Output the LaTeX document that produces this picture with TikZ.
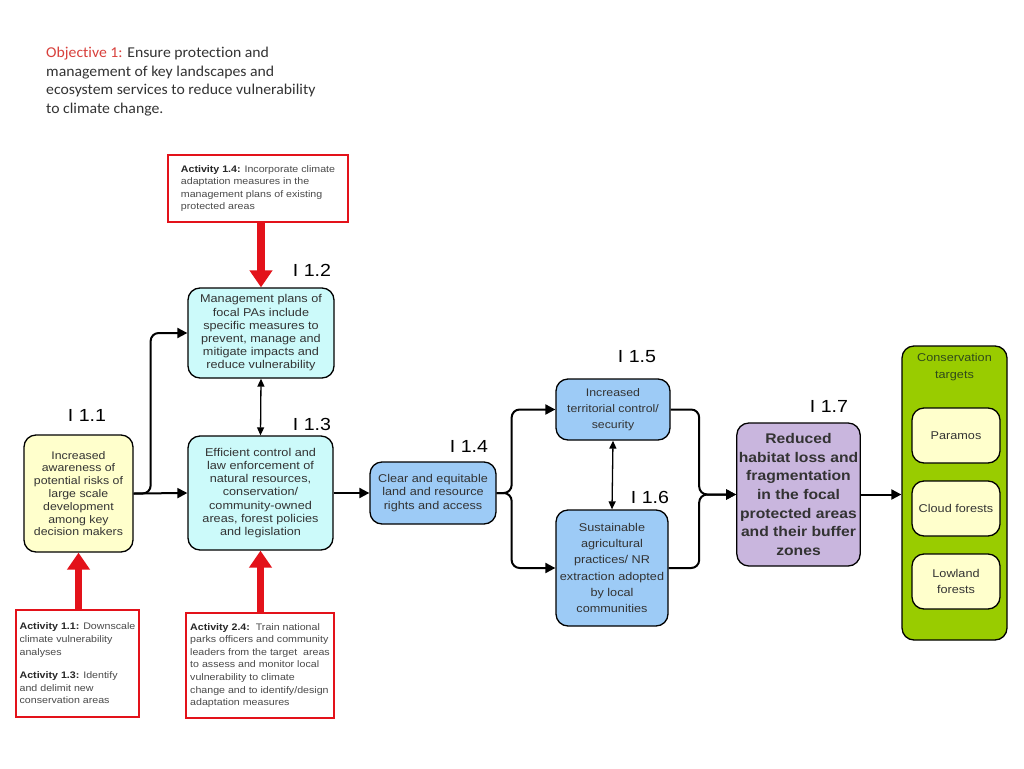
\documentclass[tikz,border=0pt]{standalone}
\usepackage{fontspec}
\setmainfont{Liberation Sans}[FakeStretch=1.12]
\newfontfamily\calib{Carlito}[FakeStretch=1.05,Ligatures=NoCommon]
\usetikzlibrary{arrows.meta}
\definecolor{txt}{HTML}{333333}
\definecolor{acttxt}{HTML}{4A4A4A}
\definecolor{arrred}{HTML}{E3121A}
\definecolor{objred}{HTML}{D8403C}
\definecolor{cyanf}{HTML}{CCFAFA}
\definecolor{yelf}{HTML}{FFFFCC}
\definecolor{bluef}{HTML}{9DCBF6}
\definecolor{purf}{HTML}{C9B6DE}
\definecolor{greenf}{HTML}{99CC00}
\definecolor{greentxt}{HTML}{2F4A1A}
\tikzset{
  ind/.style={draw=black, line width=1.3pt, rounded corners=12pt, align=center, text=txt, inner sep=2pt,
    font=\fontsize{11.3}{13.2}\selectfont},
  actbox/.style={draw=arrred, line width=2.2pt, fill=white, align=left, text=acttxt, inner sep=4pt,
    font=\fontsize{9.5}{12.6}\selectfont},
  lab/.style={font=\fontsize{17.5}{20}\selectfont, text=black, inner sep=0pt},
  conn/.style={line width=2pt, draw=black, -{Triangle[length=10pt,width=10pt]}},
  dbl/.style={line width=1.3pt, draw=black, {Triangle[length=8pt,width=7pt]}-{Triangle[length=8pt,width=7pt]}},
  redarr/.style={line width=7.5pt, draw=arrred, -{Triangle[length=17pt,width=22pt]}},
}
\begin{document}
\begin{tikzpicture}[x=1pt,y=-1pt]
\useasboundingbox[fill=white] (0,0) rectangle (1024,768);

% objective
\node[anchor=north west, align=left, inner sep=0pt, text=black!80, font=\calib\fontsize{15}{18.5}\selectfont] (obj) at (46,47)
  {{\color{objred}Objective 1:} Ensure protection and\\management of key landscapes and\\ecosystem services to reduce vulnerability\\to climate change.};

% activity boxes
\node[actbox, minimum width=180pt, minimum height=67pt] (act14) at (258,188.5)
  {\textbf{\color{black!85}Activity 1.4:} Incorporate climate\\adaptation measures in the\\management plans of existing\\protected areas\hspace*{10pt}};
\node[actbox, minimum width=123pt, minimum height=107pt] (act11) at (77.5,663.5)
  {\textbf{\color{black!85}Activity 1.1:} Downscale\\climate vulnerability\\analyses\\[11pt]\textbf{\color{black!85}Activity 1.3:} Identify\\and delimit new\\conservation areas};
\node[actbox, minimum width=148pt, minimum height=105pt] (act24) at (260,665.5)
  {\textbf{\color{black!85}Activity 2.4:}\ \ Train national\\parks officers and community\\leaders from the target\ \ areas\\to assess and monitor local\\vulnerability to climate\\change and to identify/design\\adaptation measures};

% indicator boxes
\node[ind, fill=cyanf, minimum width=146pt, minimum height=90pt] (mp) at (261,333)
  {Management plans of\\focal PAs include\\specific measures to\\prevent, manage and\\mitigate impacts and\\reduce vulnerability};
\node[ind, fill=cyanf, minimum width=145pt, minimum height=114pt] (ef) at (260.5,493)
  {Efficient control and\\law enforcement of\\natural resources,\\conservation/\\community-owned\\areas, forest policies\\and legislation};
\node[ind, fill=yelf, minimum width=109pt, minimum height=117pt, font=\fontsize{11}{12.8}\selectfont] (aw) at (78.5,493.5)
  {Increased\\awareness of\\potential risks of\\large scale\\development\\among key\\decision makers};
\node[ind, fill=bluef, minimum width=126pt, minimum height=62pt] (cl) at (433,493)
  {Clear and equitable\\land and resource\\rights and access};
\node[ind, fill=bluef, minimum width=114pt, minimum height=61pt, font=\fontsize{11}{16}\selectfont] (tc) at (613,409.5)
  {Increased\\territorial control/\\security};
\node[ind, fill=bluef, minimum width=112pt, minimum height=116pt, font=\fontsize{11.3}{16.1}\selectfont] (sa) at (612,568)
  {Sustainable\\agricultural\\practices/ NR\\extraction adopted\\by local\\communities};
\node[ind, fill=purf, minimum width=123pt, minimum height=143pt, font=\bfseries\fontsize{14}{18.7}\selectfont] (rd) at (798.5,494.5)
  {Reduced\\habitat loss and\\fragmentation\\in the focal\\protected areas\\and their buffer\\zones};

% conservation targets
\node[ind, fill=greenf, minimum width=105pt, minimum height=294pt] (ct) at (954.5,493) {};
\node[align=center, text=greentxt, inner sep=0pt, font=\fontsize{11.3}{16.5}\selectfont] (ctt) at (954.5,367) {Conservation\\targets};
\node[ind, fill=yelf, minimum width=88pt, minimum height=55pt] (pa) at (956,435.5) {Paramos};
\node[ind, fill=yelf, minimum width=88pt, minimum height=55pt] (cf) at (956,508.5) {Cloud forests};
\node[ind, fill=yelf, minimum width=88pt, minimum height=55pt, font=\fontsize{11.3}{16}\selectfont] (lf) at (956,581.5) {Lowland\\forests};

% indicator labels
\node[lab] (l11) at (87,415) {I 1.1};
\node[lab] (l12) at (312,270) {I 1.2};
\node[lab] (l13) at (312,424) {I 1.3};
\node[lab] (l14) at (469,446) {I 1.4};
\node[lab] (l15) at (637,357) {I 1.5};
\node[lab] (l16) at (650,497) {I 1.6};
\node[lab] (l17) at (829,406) {I 1.7};

% red arrows
\draw[redarr] (act14.south -| mp.north) -- (mp.north);
\draw[redarr] (aw.south |- act11.north) -- (aw.south);
\draw[redarr] (ef.south |- act24.north) -- (ef.south);

% connectors
\draw[conn] (aw.east) -- (ef.west);
\draw[conn, rounded corners=8pt] (aw.east) -- ++(17,0) |- (mp.west);
\draw[dbl] (mp.south) -- (ef.north);
\draw[conn] (ef.east) -- (cl.west);
\draw[conn, rounded corners=8pt] (cl.east) -- ++(15,0) |- (tc.west);
\draw[conn, rounded corners=8pt] (cl.east) -- ++(15,0) |- (sa.west);
\draw[dbl] (tc.south) -- (sa.north);
\coordinate (jr) at ([xshift=-37pt]rd.west);
\draw[conn, rounded corners=8pt] (tc.east) -| (jr) -- (rd.west);
\draw[conn, rounded corners=8pt] (sa.east) -| (jr) -- (rd.west);
\draw[conn] (rd.east) -- (rd.east -| ct.west);
\end{tikzpicture}
\end{document}
